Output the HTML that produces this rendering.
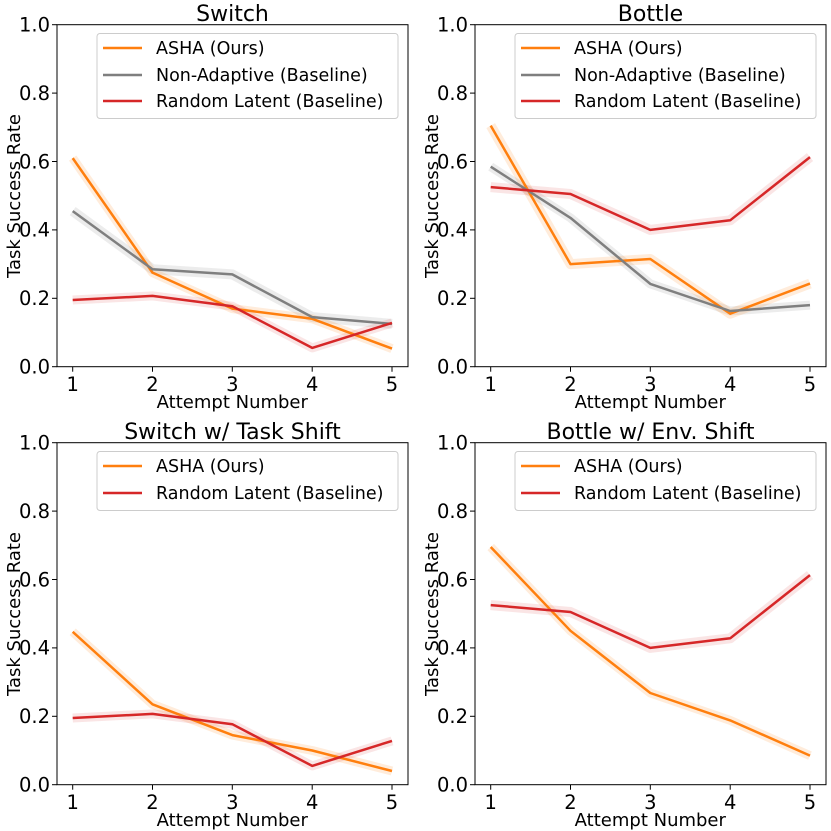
<!DOCTYPE html>
<html><head><meta charset="utf-8"><style>body{margin:0;background:#fff}svg{display:block}text{font-family:"DejaVu Sans","Liberation Sans",sans-serif;fill:#000}</style></head><body>
<svg width="831" height="831" viewBox="0 0 831 831" xmlns="http://www.w3.org/2000/svg">
<defs>
<g id="ax">
<rect x="57" y="24.7" width="351" height="342" fill="none" stroke="#000" stroke-width="1"/>
<g stroke="#000" stroke-width="1">
<line x1="52" x2="57" y1="366.7" y2="366.7"/><line x1="52" x2="57" y1="298.3" y2="298.3"/><line x1="52" x2="57" y1="229.9" y2="229.9"/><line x1="52" x2="57" y1="161.5" y2="161.5"/><line x1="52" x2="57" y1="93.1" y2="93.1"/><line x1="52" x2="57" y1="24.7" y2="24.7"/>
<line x1="72.7" x2="72.7" y1="366.7" y2="371.7"/><line x1="152.5" x2="152.5" y1="366.7" y2="371.7"/><line x1="232.3" x2="232.3" y1="366.7" y2="371.7"/><line x1="312.2" x2="312.2" y1="366.7" y2="371.7"/><line x1="392" x2="392" y1="366.7" y2="371.7"/>
</g>
<g font-size="19.5" text-anchor="end">
<text x="50" y="373.5">0.0</text><text x="50" y="305.1">0.2</text><text x="50" y="236.7">0.4</text><text x="50" y="168.3">0.6</text><text x="50" y="99.9">0.8</text><text x="50" y="31.5">1.0</text>
</g>
<g font-size="19.5" text-anchor="middle">
<text x="72.7" y="391">1</text><text x="152.5" y="391">2</text><text x="232.3" y="391">3</text><text x="312.2" y="391">4</text><text x="392" y="391">5</text>
<text x="232.3" y="408" font-size="18">Attempt Number</text>
<text transform="translate(20,196) rotate(-90)" font-size="18">Task Success Rate</text>
</g>
</g>
</defs>
<g>
<use href="#ax"/>
<text x="232.5" y="21" font-size="22" text-anchor="middle">Switch</text>
<g fill="none" stroke-linejoin="round">
<polyline points="72.7,211.1 152.5,269.2 232.3,274.4 312.2,317.1 392,323.9" stroke="#7f7f7f" stroke-width="10" opacity="0.15"/>
<polyline points="72.7,158.1 152.5,272.6 232.3,308.6 312.2,318.8 392,348.6" stroke="#ff7f0e" stroke-width="9" opacity="0.15"/>
<polyline points="72.7,300 152.5,295.9 232.3,306.2 312.2,347.9 392,322.9" stroke="#d62728" stroke-width="9" opacity="0.12"/>
<polyline points="72.7,158.1 152.5,272.6 232.3,308.6 312.2,318.8 392,348.6" stroke="#ff7f0e" stroke-width="2.5"/>
<polyline points="72.7,211.1 152.5,269.2 232.3,274.4 312.2,317.1 392,323.9" stroke="#7f7f7f" stroke-width="2.5"/>
<polyline points="72.7,300 152.5,295.9 232.3,306.2 312.2,347.9 392,322.9" stroke="#d62728" stroke-width="2.5"/>
</g>
<rect x="97" y="33.5" width="301" height="85" rx="3" fill="#fff" fill-opacity="0.8" stroke="#ccc"/>
<line x1="103" x2="142" y1="48" y2="48" stroke="#ff7f0e" stroke-width="2.5"/>
<line x1="103" x2="142" y1="75" y2="75" stroke="#7f7f7f" stroke-width="2.5"/>
<line x1="103" x2="142" y1="101" y2="101" stroke="#d62728" stroke-width="2.5"/>
<g font-size="17.5"><text x="156" y="54">ASHA (Ours)</text><text x="156" y="81">Non-Adaptive (Baseline)</text><text x="156" y="107">Random Latent (Baseline)</text></g>
</g>
<g transform="translate(418,0)">
<use href="#ax"/>
<text x="232.5" y="21" font-size="22" text-anchor="middle">Bottle</text>
<g fill="none" stroke-linejoin="round">
<polyline points="72.7,166.7 152.5,217.9 232.3,283.9 312.2,311 392,305.1" stroke="#7f7f7f" stroke-width="9" opacity="0.15"/>
<polyline points="72.7,125.6 152.5,264.1 232.3,259 312.2,313.7 392,283.6" stroke="#ff7f0e" stroke-width="10" opacity="0.15"/>
<polyline points="72.7,187.1 152.5,194 232.3,229.9 312.2,220.3 392,157.1" stroke="#d62728" stroke-width="10" opacity="0.12"/>
<polyline points="72.7,125.6 152.5,264.1 232.3,259 312.2,313.7 392,283.6" stroke="#ff7f0e" stroke-width="2.5"/>
<polyline points="72.7,166.7 152.5,217.9 232.3,283.9 312.2,311 392,305.1" stroke="#7f7f7f" stroke-width="2.5"/>
<polyline points="72.7,187.1 152.5,194 232.3,229.9 312.2,220.3 392,157.1" stroke="#d62728" stroke-width="2.5"/>
</g>
<rect x="97" y="33.5" width="301" height="85" rx="3" fill="#fff" fill-opacity="0.8" stroke="#ccc"/>
<line x1="103" x2="142" y1="48" y2="48" stroke="#ff7f0e" stroke-width="2.5"/>
<line x1="103" x2="142" y1="75" y2="75" stroke="#7f7f7f" stroke-width="2.5"/>
<line x1="103" x2="142" y1="101" y2="101" stroke="#d62728" stroke-width="2.5"/>
<g font-size="17.5"><text x="156" y="54">ASHA (Ours)</text><text x="156" y="81">Non-Adaptive (Baseline)</text><text x="156" y="107">Random Latent (Baseline)</text></g>
</g>
<g transform="translate(0,418)">
<use href="#ax"/>
<text x="232.5" y="21" font-size="22" text-anchor="middle">Switch w/ Task Shift</text>
<g fill="none" stroke-linejoin="round">
<polyline points="72.7,213.8 152.5,286.3 232.3,317.1 312.2,332.5 392,353" stroke="#ff7f0e" stroke-width="9" opacity="0.15"/>
<polyline points="72.7,300 152.5,295.9 232.3,306.2 312.2,347.9 392,322.9" stroke="#d62728" stroke-width="9" opacity="0.12"/>
<polyline points="72.7,213.8 152.5,286.3 232.3,317.1 312.2,332.5 392,353" stroke="#ff7f0e" stroke-width="2.5"/>
<polyline points="72.7,300 152.5,295.9 232.3,306.2 312.2,347.9 392,322.9" stroke="#d62728" stroke-width="2.5"/>
</g>
<rect x="97" y="33.5" width="301" height="59" rx="3" fill="#fff" fill-opacity="0.8" stroke="#ccc"/>
<line x1="103" x2="142" y1="48" y2="48" stroke="#ff7f0e" stroke-width="2.5"/>
<line x1="103" x2="142" y1="75" y2="75" stroke="#d62728" stroke-width="2.5"/>
<g font-size="17.5"><text x="156" y="54">ASHA (Ours)</text><text x="156" y="81">Random Latent (Baseline)</text></g>
</g>
<g transform="translate(418,418)">
<use href="#ax"/>
<text x="232.5" y="21" font-size="22" text-anchor="middle">Bottle w/ Env. Shift</text>
<g fill="none" stroke-linejoin="round">
<polyline points="72.7,129 152.5,212.8 232.3,275 312.2,302.4 392,337.6" stroke="#ff7f0e" stroke-width="9" opacity="0.15"/>
<polyline points="72.7,187.1 152.5,194 232.3,229.9 312.2,220.3 392,157.1" stroke="#d62728" stroke-width="10" opacity="0.12"/>
<polyline points="72.7,129 152.5,212.8 232.3,275 312.2,302.4 392,337.6" stroke="#ff7f0e" stroke-width="2.5"/>
<polyline points="72.7,187.1 152.5,194 232.3,229.9 312.2,220.3 392,157.1" stroke="#d62728" stroke-width="2.5"/>
</g>
<rect x="97" y="33.5" width="301" height="59" rx="3" fill="#fff" fill-opacity="0.8" stroke="#ccc"/>
<line x1="103" x2="142" y1="48" y2="48" stroke="#ff7f0e" stroke-width="2.5"/>
<line x1="103" x2="142" y1="75" y2="75" stroke="#d62728" stroke-width="2.5"/>
<g font-size="17.5"><text x="156" y="54">ASHA (Ours)</text><text x="156" y="81">Random Latent (Baseline)</text></g>
</g>
</svg>
</body></html>
